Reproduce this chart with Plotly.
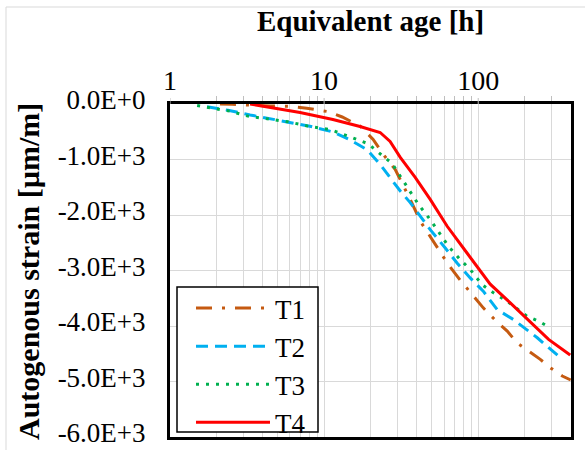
import plotly.graph_objects as go

# ---------------- data ----------------
t1_h = [2.11, 2.53, 4.46, 5.84, 7.72, 10.5, 13.1, 17.1, 20.8, 24.2, 28.9, 33.6, 36.7, 42.1, 48.8,
        55.0, 63.8, 76.4, 88.7, 107.8, 130.9, 154.3, 179, 211, 252.7, 293.6, 351, 398]
t1_v = [0, -5, -36, -40, -77, -135, -234, -396, -638, -908, -1178, -1538, -1753, -2113, -2383,
        -2617, -2887, -3174, -3390, -3673, -3912, -4092, -4307, -4451, -4601, -4752, -4901, -4973]

t2_h = [1.74, 2.38, 3.31, 4.46, 6.20, 8.24, 11.4, 14.7, 19.0, 23.1, 26.8, 31.2, 36.2, 48.8, 61.1,
        73.1, 88.7, 107.8, 132.8, 168.8, 241.6, 341]
t2_v = [-50, -112, -198, -270, -342, -405, -504, -644, -823, -1088, -1327, -1568, -1777, -2263, -2594,
        -2869, -3133, -3372, -3705, -3881, -4212, -4570]

t3_h = [1.50, 1.77, 2.05, 2.45, 3.21, 4.33, 5.84, 7.87, 10.9, 14.3, 19.3, 24.2, 27.5, 29.7, 32.6,
        35.1, 41.0, 48.8, 58.1, 64.1, 76.4, 88.7, 105.7, 125.7, 153.6, 207, 246, 293.6]
t3_v = [-27, -58, -99, -129, -219, -266, -320, -399, -459, -579, -716, -944, -1065, -1209, -1388,
        -1538, -1813, -2083, -2383, -2563, -2802, -2982, -3252, -3403, -3552, -3822, -3912, -4032]

t4_h = [3.31, 6.98, 11.4, 17.1, 23.1, 26.8, 31.2, 39.0, 48.8, 62.9, 84.8, 119.6, 161.4, 208, 286, 395]
t4_v = [0, -153, -279, -405, -513, -674, -962, -1322, -1718, -2203, -2689, -3246, -3583, -3876, -4241, -4523]

series_names = ["T1", "T2", "T3", "T4"]
x_tickvals = [1, 10, 100]
x_minor = [2, 3, 4, 5, 6, 7, 8, 9, 20, 30, 40, 50, 60, 70, 80, 90, 200, 300]
y_tickvals = [0, -1000, -2000, -3000, -4000, -5000, -6000]
y_ticktext = ["0.0E+0", "-1.0E+3", "-2.0E+3", "-3.0E+3", "-4.0E+3", "-5.0E+3", "-6.0E+3"]

FONT = "Liberation Serif"
GRID = "#D9D9D9"
TICKC = "#BFBFBF"

styles = [
    dict(color="#C55A11", dash="16px,10px,3px,10px"),
    dict(color="#00B0F0", dash="12px,7px"),
    dict(color="#00B050", dash="3px,7px"),
    dict(color="#FF0000", dash="solid"),
]

fig = go.Figure()
for name, xs, ys, st in zip(series_names, [t1_h, t2_h, t3_h, t4_h], [t1_v, t2_v, t3_v, t4_v], styles):
    fig.add_trace(go.Scatter(x=xs, y=ys, mode="lines", name=name,
                             line=dict(color=st["color"], dash=st["dash"], width=3)))

# plot area: x 170..571, y 104..437
PT, PB, PL, PR = 104, 437, 170, 571
PH, PW = PB - PT, PR - PL


def px_x(x):
    return (x - PL) / PW


def px_y(y):
    return (PB - y) / PH


shapes = [
    # chart-area border (light gray)
    dict(type="line", xref="paper", yref="paper",
         x0=px_x(6), x1=px_x(585), y0=px_y(7), y1=px_y(7),
         line=dict(color=GRID, width=1)),
    dict(type="line", xref="paper", yref="paper",
         x0=px_x(6), x1=px_x(6), y0=px_y(7), y1=px_y(460),
         line=dict(color=GRID, width=1)),
    # legend frame
    dict(type="rect", xref="paper", yref="paper", layer="above",
         x0=px_x(177), x1=px_x(318), y0=px_y(287), y1=px_y(432),
         fillcolor="white", line=dict(color="black", width=1.5)),
]
# short outside tick marks at the major (decade) positions, on the x scale
for tv in x_tickvals:
    shapes.append(dict(type="line", xref="x", yref="paper", x0=tv, x1=tv,
                       y0=1, y1=1 + 6 / PH, line=dict(color=TICKC, width=1)))

fig.update_layout(
    width=585, height=450,
    margin=dict(l=PL, r=585 - PR, t=PT, b=450 - PB, autoexpand=False),
    paper_bgcolor="white", plot_bgcolor="white",
    font=dict(family=FONT, size=27, color="black"),
    showlegend=True,
    legend=dict(x=px_x(177), y=px_y(284), xanchor="left", yanchor="top",
                bgcolor="rgba(0,0,0,0)", borderwidth=0,
                font=dict(family=FONT, size=27, color="black"),
                itemwidth=74, indentation=14, tracegroupgap=0),
    xaxis=dict(type="log", range=[0, 2.602], side="top",
               tickvals=x_tickvals, ticktext=["1", "10", "100"],
               tickfont=dict(family=FONT, size=28, color="black"),
               ticks="", ticklen=0, ticklabeloverflow="allow",
               showgrid=True, gridcolor=GRID, gridwidth=1,
               minor=dict(tickvals=x_minor, showgrid=True, gridcolor=GRID, gridwidth=1,
                          ticks="outside", ticklen=5, tickcolor=TICKC),
               showline=True, linecolor="black", linewidth=3, mirror=True,
               zeroline=False,
               title=dict(text="<b>Equivalent age [h]</b>",
                          font=dict(family=FONT, size=29, color="black"),
                          standoff=25)),
    yaxis=dict(range=[-6000, 0], tickvals=y_tickvals, ticktext=y_ticktext,
               tickfont=dict(family=FONT, size=27, color="black"),
               ticks="", ticklabelstandoff=16, ticklabelshift=-4, ticklabeloverflow="allow",
               showgrid=True, gridcolor=GRID, gridwidth=1,
               showline=True, linecolor="black", linewidth=3, mirror=True,
               zeroline=False),
    annotations=[
        dict(text="<b>Autogenous strain [µm/m]</b>", textangle=-90,
             xref="paper", yref="paper", x=px_x(28), y=px_y(272),
             xanchor="center", yanchor="middle", showarrow=False,
             font=dict(family=FONT, size=30, color="black")),
    ],
    shapes=shapes,
)

fig.write_html("out.html")
